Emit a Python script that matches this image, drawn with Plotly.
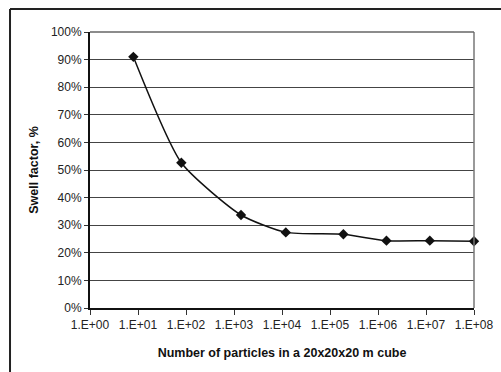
import plotly.graph_objects as go

particles = [8, 80, 1400, 12000, 190000, 1.5e6, 1.2e7, 1e8]
swell = [0.91, 0.526, 0.337, 0.274, 0.267, 0.244, 0.244, 0.242]
x_tick_vals = [1, 10, 100, 1e3, 1e4, 1e5, 1e6, 1e7, 1e8]
x_tick_text = ["1.E+00", "1.E+01", "1.E+02", "1.E+03", "1.E+04",
               "1.E+05", "1.E+06", "1.E+07", "1.E+08"]

fig = go.Figure()
fig.add_trace(go.Scatter(
    x=particles, y=swell, mode="lines+markers",
    line=dict(color="#111111", width=1.5, shape="spline", smoothing=0.6),
    marker=dict(symbol="diamond", size=8, color="#111111"),
    showlegend=False, cliponaxis=False,
))

font = dict(family="Liberation Sans, Arial, sans-serif", size=12, color="#222222")
tfont = dict(family="Liberation Sans, Arial, sans-serif", size=12.5, color="#111111")

fig.update_layout(
    width=501, height=372,
    margin=dict(l=90, r=27, t=32, b=64),
    paper_bgcolor="white", plot_bgcolor="white",
    font=font,
    xaxis=dict(
        type="log", range=[0, 8], tickvals=x_tick_vals, ticktext=x_tick_text,
        showgrid=False, zeroline=False, automargin=False,
        showline=True, linecolor="#111111", linewidth=1.5,
        ticks="outside", ticklen=5, tickcolor="#333333", tickwidth=1,
        tickfont=font,
        title=dict(text="<b>Number of particles in a 20x20x20 m cube</b>",
                   font=tfont, standoff=17),
    ),
    yaxis=dict(
        range=[0, 1], dtick=0.1, tickformat=".0%",
        showgrid=True, gridcolor="#444444", gridwidth=1,
        zeroline=False, automargin=False,
        showline=True, linecolor="#111111", linewidth=2,
        ticks="outside", ticklen=4, tickcolor="#333333", tickwidth=1,
        tickfont=font,
        title=dict(text="<b>Swell factor, %</b>", font=tfont, standoff=10),
    ),
    shapes=[
        dict(type="line", xref="paper", yref="paper", x0=1, x1=1, y0=0, y1=1,
             line=dict(color="#777777", width=1.5)),
        dict(type="line", xref="paper", yref="paper", x0=0, x1=1, y0=1, y1=1,
             line=dict(color="#666666", width=1.5)),
        dict(type="line", xref="paper", yref="paper", x0=-0.2083, x1=1.2, y0=1.0833, y1=1.0833,
             line=dict(color="#222222", width=2)),
        dict(type="line", xref="paper", yref="paper", x0=-0.2083, x1=-0.2083, y0=-0.3, y1=1.0833,
             line=dict(color="#222222", width=2)),
    ],
)

fig.write_html("out.html", config={"displayModeBar": False},
               post_script="document.body.style.margin='0';")
